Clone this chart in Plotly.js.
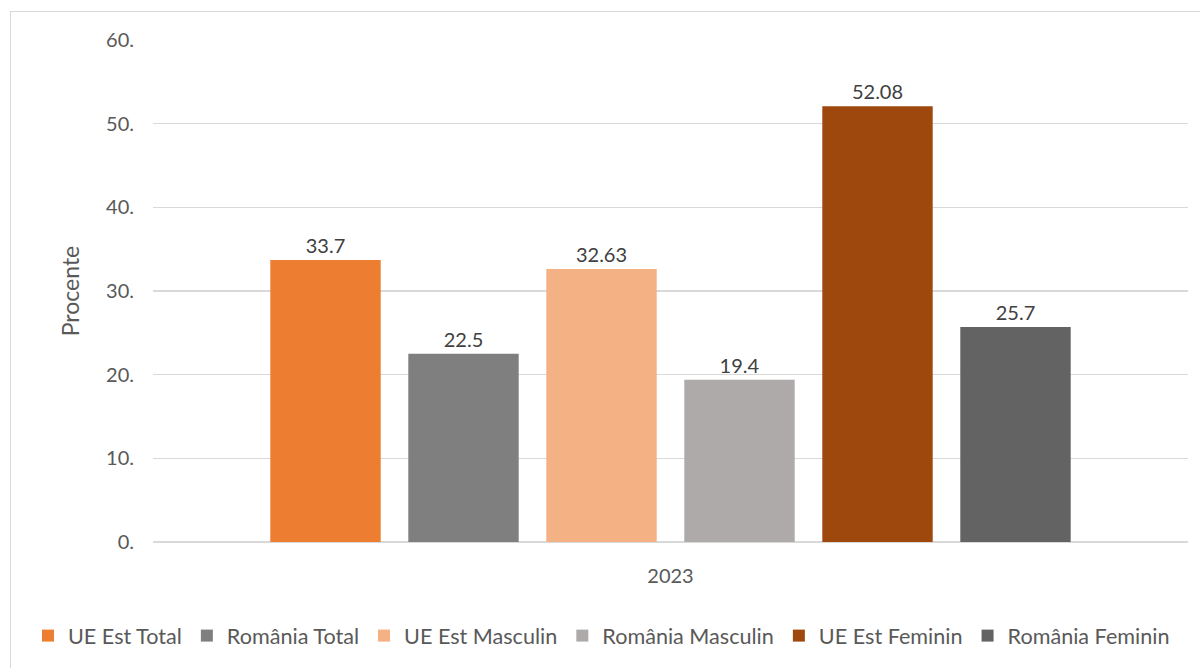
<!DOCTYPE html>
<html>
<head>
<meta charset="utf-8">
<script src="https://cdn.plot.ly/plotly-3.0.1.min.js"></script>
<style>
html,body{margin:0;padding:0;background:#fff;}
#wrap{position:relative;width:1200px;height:668px;overflow:hidden;}
#frame{position:absolute;left:10px;top:11px;width:1300px;height:800px;border:1px solid #d9d9d9;box-sizing:border-box;pointer-events:none;}
#chart{position:absolute;left:0;top:0;width:1200px;height:668px;}
</style>
</head>
<body>
<div id="wrap">
<div id="chart"></div>
<div id="frame"></div>
</div>
<script>
const categories = ["2023"];
const seriesNames = ["UE Est Total", "România Total", "UE Est Masculin", "România Masculin", "UE Est Feminin", "România Feminin"];
const seriesValues = [33.7, 22.5, 32.63, 19.4, 52.08, 25.7];
const seriesLabels = ["33.7", "22.5", "32.63", "19.4", "52.08", "25.7"];
const seriesColors = ["#ed7d31", "#7f7f7f", "#f4b183", "#aeaaaa", "#9e480e", "#636363"];
const yTickVals = [0, 10, 20, 30, 40, 50, 60];
const yTickText = ["0.", "10.", "20.", "30.", "40.", "50.", "60."];
const yTitle = "Procente";

const traces = seriesNames.map((name, i) => ({
  type: "bar",
  name: name,
  x: categories,
  y: [seriesValues[i]],
  text: [seriesLabels[i]],
  textposition: "outside",
  textfont: {family: "Lato, sans-serif", size: 20, color: "#404040"},
  cliponaxis: false,
  marker: {color: seriesColors[i]},
  hoverinfo: "none"
}));

const layout = {
  width: 1200,
  height: 668,
  margin: {l: 153, r: 12, t: 40, b: 125},
  paper_bgcolor: "rgba(0,0,0,0)",
  plot_bgcolor: "rgba(0,0,0,0)",
  barmode: "group",
  bargap: 0.2,
  bargroupgap: 0.2,
  font: {family: "Lato, sans-serif", color: "#595959"},
  showlegend: true,
  legend: {
    orientation: "h",
    xref: "paper",
    yref: "paper",
    x: -0.1208,
    xanchor: "left",
    y: -0.185,
    yanchor: "middle",
    font: {family: "Lato, sans-serif", size: 21.6, color: "#595959"},
    traceorder: "normal",
    itemclick: false
  },
  xaxis: {
    type: "category",
    showgrid: false,
    zeroline: false,
    showline: false,
    ticks: "",
    tickfont: {family: "Lato, sans-serif", size: 20, color: "#595959"},
    ticklabelstandoff: 20
  },
  yaxis: {
    range: [0, 60],
    tickvals: yTickVals,
    ticktext: yTickText,
    showgrid: true,
    gridcolor: "#d9d9d9",
    gridwidth: 1.5,
    zeroline: true,
    zerolinecolor: "#d9d9d9",
    zerolinewidth: 2,
    showline: false,
    ticks: "",
    ticklabelstandoff: 18,
    tickfont: {family: "Lato, sans-serif", size: 20, color: "#595959"},
    title: {text: yTitle, font: {family: "Lato, sans-serif", size: 23, color: "#595959"}, standoff: 20}
  }
};

Plotly.newPlot("chart", traces, layout, {displayModeBar: false, staticPlot: true});
</script>
</body>
</html>
